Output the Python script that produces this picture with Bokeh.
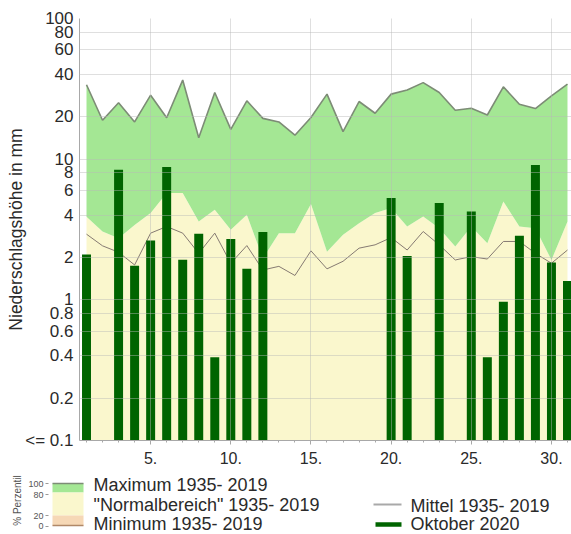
import math
from bokeh.plotting import figure
from bokeh.models import Range1d, FixedTicker
from bokeh.embed import file_html
from bokeh.resources import INLINE
from bokeh.core.properties import value

# ---------------- data ----------------
days = list(range(1, 32))
max_1935_2019 = [33.8, 18.9, 25.2, 18.4, 28.5, 19.7, 36.5, 14.2, 29.8, 16.3,
                 26.0, 19.5, 18.4, 14.8, 19.8, 29.0, 15.7, 25.7, 21.2, 29.0,
                 31.0, 35.0, 29.8, 22.3, 23.0, 20.6, 32.7, 24.6, 22.9, 28.2, 34.2]
normal_upper = [3.9, 3.06, 2.74, 3.41, 4.14, 5.74, 5.74, 3.6, 4.37, 3.15,
                4.03, 1.97, 2.98, 2.98, 4.8, 2.2, 2.9, 3.51, 4.14, 4.49,
                3.32, 3.92, 3.23, 2.39, 3.32, 2.53, 5.0, 3.32, 3.23, 1.92, 3.6]
mittel_1935_2019 = [2.93, 2.42, 2.18, 1.77, 2.98, 3.32, 2.98, 2.14, 2.98, 1.82,
                    2.43, 1.63, 1.73, 1.49, 2.23, 1.66, 1.88, 2.33, 2.46, 2.77,
                    2.26, 3.06, 2.46, 1.92, 2.03, 1.95, 2.6, 2.6, 2.14, 1.82, 2.26]
oktober_2020 = [2.1, 0.0, 8.4, 1.75, 2.64, 8.8, 1.93, 2.95, 0.39, 2.71,
                1.66, 3.03, 0.0, 0.0, 0.0, 0.0, 0.0, 0.0, 0.0, 5.3,
                2.05, 0.0, 4.87, 0.0, 4.25, 0.39, 0.97, 2.85, 9.1, 1.84, 1.36]

y_ticks = [0.1, 0.2, 0.4, 0.6, 0.8, 1, 2, 4, 6, 8, 10, 20, 40, 60, 80, 100]
y_tick_labels = ["<= 0.1", "0.2", "0.4", "0.6", "0.8", "1", "2", "4", "6", "8",
                 "10", "20", "40", "60", "80", "100"]
x_ticks = [5, 10, 15, 20, 25, 30]
x_tick_labels = ["5.", "10.", "15.", "20.", "25.", "30."]

legend_labels = ["Maximum 1935- 2019", "\"Normalbereich\" 1935- 2019", "Minimum 1935- 2019"]
legend_labels_right = ["Mittel 1935- 2019", "Oktober 2020"]
perc_ticks = ["100", "80", "20", "0"]

# ---------------- styles ----------------
GREEN = "#a4e794"
CREAM = "#faf7cd"
PEACH = "#f6d8b6"
BAR = "#006400"
MAXLINE = "#7d8c76"
MEANLINE = "#857a72"
FONT = "Liberation Sans"
TXT = "#2a2a2a"
W = 571

Y_MIN = 0.1

p = figure(width=W, height=468,
           x_range=Range1d(0.563, 31.25), y_range=Range1d(Y_MIN, 100),
           y_axis_type="log", output_backend="svg", toolbar_location=None,
           tools="", min_border_left=79, min_border_right=0,
           min_border_top=18, min_border_bottom=28)
p.outline_line_color = None
p.background_fill_color = "white"

p.varea(x=days, y1=Y_MIN, y2=normal_upper, fill_color=CREAM)
p.varea(x=days, y1=normal_upper, y2=max_1935_2019, fill_color=GREEN)
p.line(days, max_1935_2019, line_color=MAXLINE, line_width=1.6)
p.line(days, mittel_1935_2019, line_color=MEANLINE, line_width=1.0)

bar_x = [d for d, v in zip(days, oktober_2020) if v > Y_MIN]
bar_top = [v for v in oktober_2020 if v > Y_MIN]
p.vbar(x=bar_x, top=bar_top, bottom=Y_MIN, width=0.56,
       fill_color=BAR, line_color=None)

# axes
p.yaxis.ticker = FixedTicker(ticks=y_ticks)
p.yaxis.major_label_overrides = dict(zip(y_ticks, y_tick_labels))
p.xaxis.ticker = FixedTicker(ticks=x_ticks, minor_ticks=days)
p.xaxis.major_label_overrides = dict(zip(x_ticks, x_tick_labels))

for ax in (p.xaxis[0], p.yaxis[0]):
    ax.axis_line_color = "#a8a8a8"
    ax.major_tick_line_color = "#a8a8a8"
    ax.minor_tick_line_color = "#a8a8a8"
    ax.major_label_text_font = FONT
    ax.major_label_text_color = TXT

p.yaxis.major_label_text_font_size = "17px"
p.xaxis.major_label_text_font_size = "16px"

p.yaxis.major_tick_out = 0
p.yaxis.major_tick_in = 0
p.yaxis.minor_tick_out = 0
p.yaxis.minor_tick_in = 0
p.yaxis.major_label_standoff = 6
p.yaxis.axis_label = "Niederschlagshöhe in mm"
p.yaxis.axis_label_text_font = FONT
p.yaxis.axis_label_text_font_size = "17.5px"
p.yaxis.axis_label_text_font_style = "normal"
p.yaxis.axis_label_text_color = TXT
p.yaxis.axis_label_standoff = -4

p.xaxis.major_tick_out = 4
p.xaxis.major_tick_in = 0
p.xaxis.minor_tick_out = 2
p.xaxis.minor_tick_in = 0
p.xaxis.major_label_standoff = 7

p.grid.grid_line_color = "#b8b8b8"
p.grid.grid_line_alpha = 0.45
p.grid.level = "overlay"
p.xgrid.ticker = FixedTicker(ticks=x_ticks)
p.ygrid.ticker = FixedTicker(ticks=y_ticks)

# ---------------- legend figure (separate root, drawn in pixel coordinates) ----------------
LH = 66
lg = figure(width=W, height=LH, x_range=Range1d(0, W), y_range=Range1d(LH, 0),
            x_axis_type=None, y_axis_type=None, output_backend="svg",
            toolbar_location=None, tools="", min_border=0,
            min_border_left=0, min_border_right=0, min_border_top=0, min_border_bottom=0)
lg.outline_line_color = None
lg.grid.visible = False

sw_l, sw_r = 52, 83
lg.quad(left=sw_l, right=sw_r, top=15, bottom=24, fill_color=GREEN, line_color=None)
lg.quad(left=sw_l, right=sw_r, top=24, bottom=47, fill_color=CREAM, line_color=None)
lg.quad(left=sw_l, right=sw_r, top=47, bottom=57, fill_color=PEACH, line_color=None)
lg.segment(x0=sw_l, x1=sw_r, y0=15, y1=15, line_color=MAXLINE, line_width=1.6)
lg.segment(x0=sw_l, x1=sw_r, y0=57, y1=57, line_color="#b08868", line_width=1.6)
tick_y = [15, 26, 47, 58]
lg.segment(x0=[45] * 4, x1=[48] * 4, y0=tick_y, y1=tick_y, line_color="#999999", line_width=1)
lg.text(x=[43] * 4, y=[15, 26, 47, 57], text=perc_ticks, text_align="right",
        text_baseline="middle", text_font=value(FONT), text_font_size=value("9px"),
        text_color="#555555")
lg.text(x=[17], y=[32], text=["% Perzentil"], angle=math.pi / 2, text_align="center",
        text_baseline="middle", text_font=value(FONT), text_font_size=value("10px"),
        text_color="#555555")
lg.text(x=[93] * 3, y=[16, 36.5, 55.5], text=legend_labels, text_baseline="middle",
        text_font=value(FONT), text_font_size=value("18px"), text_color=TXT)

lg.segment(x0=373, x1=401, y0=36, y1=36, line_color="#a9a9a9", line_width=2)
lg.segment(x0=375, x1=401, y0=56, y1=56, line_color=BAR, line_width=4.5)
lg.text(x=[410] * 2, y=[37, 55.5], text=legend_labels_right, text_baseline="middle",
        text_font=value(FONT), text_font_size=value("18px"), text_color=TXT)

open("out.html", "w").write(file_html([p, lg], INLINE))
